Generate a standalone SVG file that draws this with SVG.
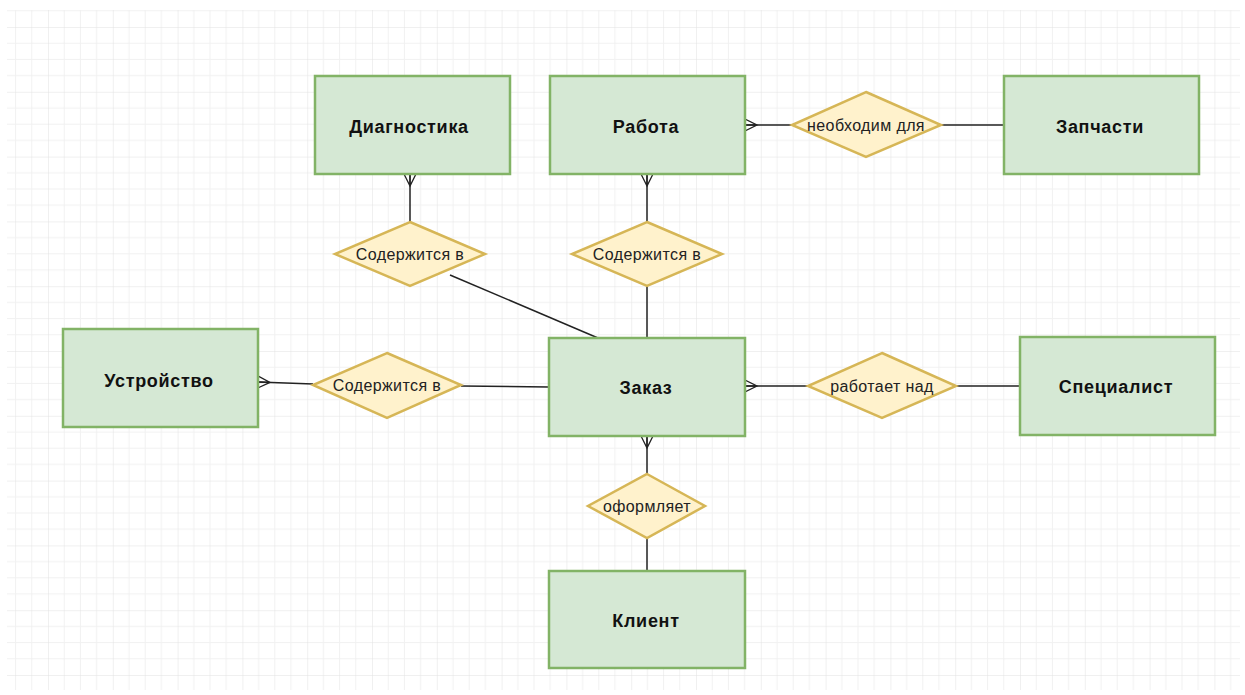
<svg xmlns="http://www.w3.org/2000/svg" width="1245" height="695" viewBox="0 0 1245 695">
<defs>
<pattern id="grid" patternUnits="userSpaceOnUse" x="48" y="27" width="64.8" height="64.8">
<path d="M16.2 0V64.8M32.4 0V64.8M48.6 0V64.8M0 16.2H64.8M0 32.4H64.8M0 48.6H64.8" stroke="#f1f1f1" stroke-width="1" fill="none"/>
<path d="M0 0V64.8M0 0H64.8" stroke="#e2e2e2" stroke-width="1" fill="none"/>
</pattern>
<marker id="many" markerWidth="14" markerHeight="14" refX="0" refY="7" orient="auto" markerUnits="userSpaceOnUse">
<path d="M0 1L12 7L0 13M0 7H12" fill="none" stroke="#222" stroke-width="1.3"/>
</marker>
</defs>
<style>
.ent rect{fill:#d5e8d4;stroke:#82b366;stroke-width:2.5}
.ent text{font-family:"Liberation Sans",Arial,sans-serif;font-weight:bold;font-size:18px;letter-spacing:0.7px;fill:#111;text-anchor:middle;dominant-baseline:central}
.rel polygon{fill:#fff2cc;stroke:#d6b656;stroke-width:2.5}
.rel text{font-family:"Liberation Sans",Arial,sans-serif;font-size:16px;letter-spacing:0.4px;fill:#222;text-anchor:middle;dominant-baseline:central}
.conn path{fill:none;stroke:#222;stroke-width:1.5}
</style>
<rect width="1245" height="695" fill="#fff"/>
<rect x="7" y="10" width="1233" height="680" fill="url(#grid)"/>

<g class="conn">
<path d="M410 174V222" marker-start="url(#many)"/>
<path d="M450 275L598 338"/>
<path d="M647 174V222" marker-start="url(#many)"/>
<path d="M647 286V338"/>
<path d="M745 125H792" marker-start="url(#many)"/>
<path d="M941 125H1004"/>
<path d="M258 382L313 384" marker-start="url(#many)"/>
<path d="M461 386L549 387"/>
<path d="M745 386H808" marker-start="url(#many)"/>
<path d="M956 386H1020"/>
<path d="M647 436V474" marker-start="url(#many)"/>
<path d="M647 538V571"/>
</g>

<g id="diagnostika" class="ent"><rect x="315" y="76" width="195" height="98"/><text x="409" y="127">Диагностика</text></g>
<g id="rabota" class="ent"><rect x="550" y="76" width="195" height="98"/><text x="646" y="127">Работа</text></g>
<g id="zapchasti" class="ent"><rect x="1004" y="76" width="195" height="98"/><text x="1100" y="127">Запчасти</text></g>
<g id="ustroystvo" class="ent"><rect x="63" y="329" width="195" height="98"/><text x="159" y="381">Устройство</text></g>
<g id="zakaz" class="ent"><rect x="549" y="338" width="196" height="98"/><text x="646" y="388">Заказ</text></g>
<g id="specialist" class="ent"><rect x="1020" y="337" width="195" height="98"/><text x="1116" y="387">Специалист</text></g>
<g id="klient" class="ent"><rect x="549" y="571" width="196" height="97"/><text x="646" y="621">Клиент</text></g>

<g id="rel-diag" class="rel"><polygon points="410,222 485,254 410,286 335,254"/><text x="410" y="254">Содержится в</text></g>
<g id="rel-rab" class="rel"><polygon points="647,222 722,254 647,286 572,254"/><text x="647" y="254">Содержится в</text></g>
<g id="rel-neob" class="rel"><polygon points="866,92 941,125 866,157 792,125"/><text x="866" y="125">необходим для</text></g>
<g id="rel-ustr" class="rel"><polygon points="387,353 461,385 387,418 313,385"/><text x="387" y="385">Содержится в</text></g>
<g id="rel-spec" class="rel"><polygon points="882,353 956,386 882,418 808,386"/><text x="882" y="386">работает над</text></g>
<g id="rel-kl" class="rel"><polygon points="647,474 705,506 647,538 588,506"/><text x="647" y="506">оформляет</text></g>
</svg>
